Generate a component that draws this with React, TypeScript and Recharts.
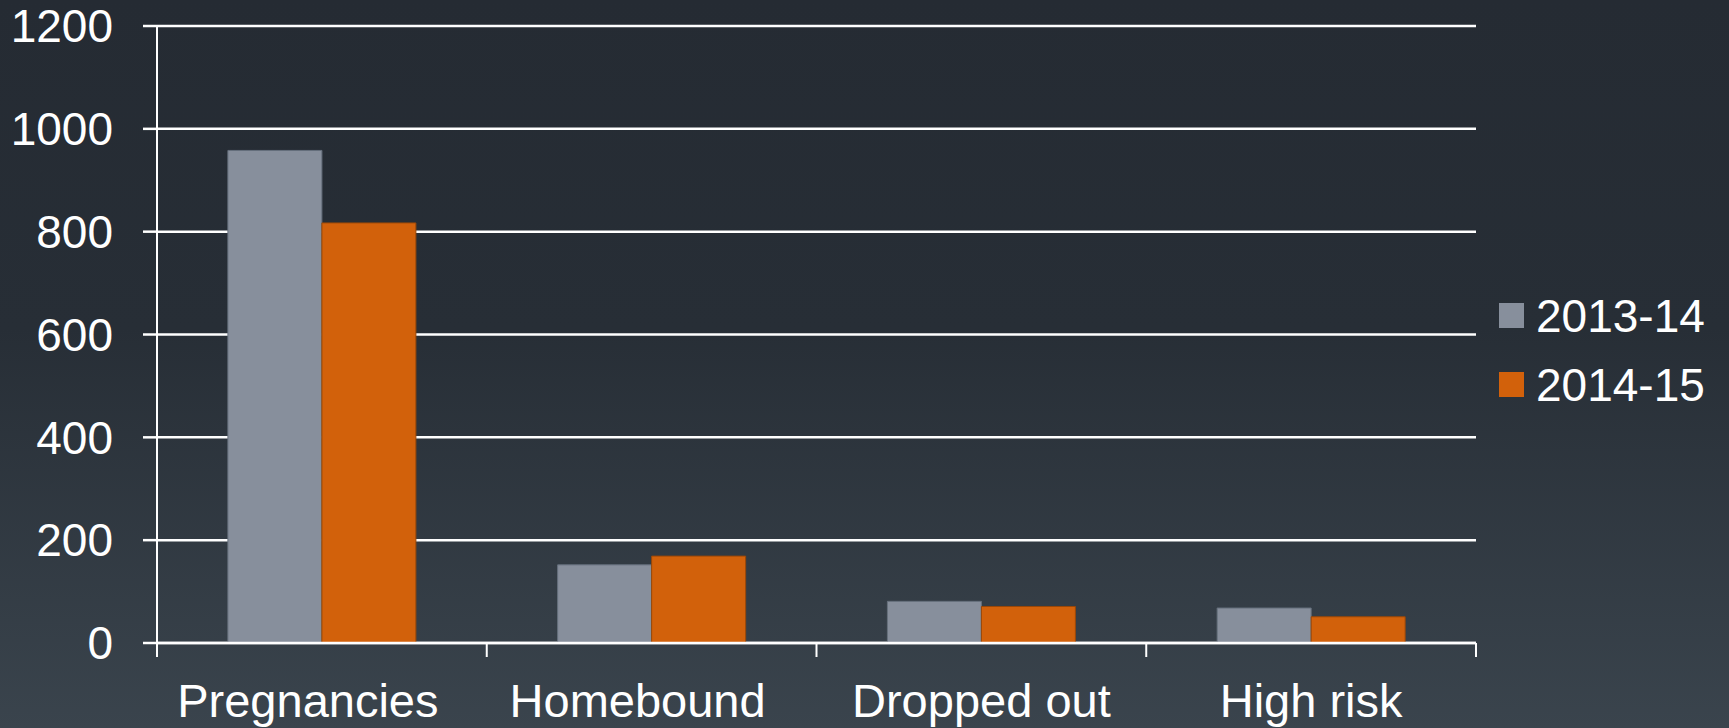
import { BarChart, Bar, XAxis, YAxis, CartesianGrid, Legend } from "recharts";

const categories = ["Pregnancies", "Homebound", "Dropped out", "High risk"];
const values2013 = [958, 152, 81, 68];
const values2014 = [817, 169, 71, 51];
const seriesNames = ["2013-14", "2014-15"];
const yTicks = [0, 200, 400, 600, 800, 1000, 1200];

const COLORS = ["#878f9c", "#d2610b"];

const W = 1729;
const H = 728;
const MARGIN = { top: 26, right: 253, bottom: 0, left: 0 };
const Y_AXIS_W = 157;
const X_AXIS_H = 85;
const BAND = (W - MARGIN.left - MARGIN.right - Y_AXIS_W) / categories.length;
// the source nudges the first two labels a little to the left
const LABEL_NUDGE = [-14, -14, 0, 0];

const data = categories.map((name, i) => ({
  name,
  a: values2013[i],
  b: values2014[i],
}));

function CategoryTick(props: any) {
  const { x, y, payload, index } = props;
  const half = BAND / 2;
  return (
    <g>
      <line x1={x - half} x2={x - half} y1={y} y2={y + 14} stroke="#fff" strokeWidth={2} />
      {index === categories.length - 1 && (
        <line x1={x + half} x2={x + half} y1={y} y2={y + 14} stroke="#fff" strokeWidth={2} />
      )}
      <text x={x + (LABEL_NUDGE[index] || 0)} y={y + 74} textAnchor="middle" fill="#fff" fontSize={47}>
        {payload.value}
      </text>
    </g>
  );
}

const renderLegend = () => (
  <div>
    {seriesNames.map((n, i) => (
      <div key={n} style={{ display: "flex", alignItems: "center", height: 69 }}>
        <span style={{ width: 25, height: 25, background: COLORS[i], marginRight: 12 }} />
        <span style={{ fontSize: 46, color: "#fff", lineHeight: 1 }}>{n}</span>
      </div>
    ))}
  </div>
);

export default function App() {
  return (
    <div
      style={{
        position: "absolute",
        left: 0,
        top: 0,
        width: W,
        height: H,
        background: "linear-gradient(to bottom, #252b33 0%, #272e36 45%, #3a444d 100%)",
        fontFamily: "'Liberation Sans', Arial, sans-serif",
      }}
    >
      <BarChart
        width={W}
        height={H}
        data={data}
        margin={MARGIN}
        barCategoryGap="21.5%"
        barGap={0}
      >
        <CartesianGrid vertical={false} stroke="#fff" strokeWidth={2.5} />
        <XAxis
          dataKey="name"
          height={X_AXIS_H}
          interval={0}
          tickLine={false}
          tickSize={0}
          tickMargin={0}
          axisLine={{ stroke: "#fff", strokeWidth: 2.5 }}
          tick={<CategoryTick />}
        />
        <YAxis
          width={Y_AXIS_W}
          domain={[0, 1200]}
          ticks={yTicks}
          interval={0}
          tickSize={14}
          tickMargin={30}
          axisLine={{ stroke: "#fff", strokeWidth: 2 }}
          tickLine={{ stroke: "#fff", strokeWidth: 2.5 }}
          tick={{ fill: "#fff", fontSize: 46 }}
        />
        <Legend
          layout="vertical"
          align="center"
          verticalAlign="middle"
          content={renderLegend}
          wrapperStyle={{ position: "absolute", left: 1499, top: 281, width: 230 }}
        />
        <Bar dataKey="a" name={seriesNames[0]} fill={COLORS[0]} stroke="#66707d" strokeWidth={1} isAnimationActive={false} />
        <Bar dataKey="b" name={seriesNames[1]} fill={COLORS[1]} stroke="#9a4708" strokeWidth={1} isAnimationActive={false} />
      </BarChart>
    </div>
  );
}
